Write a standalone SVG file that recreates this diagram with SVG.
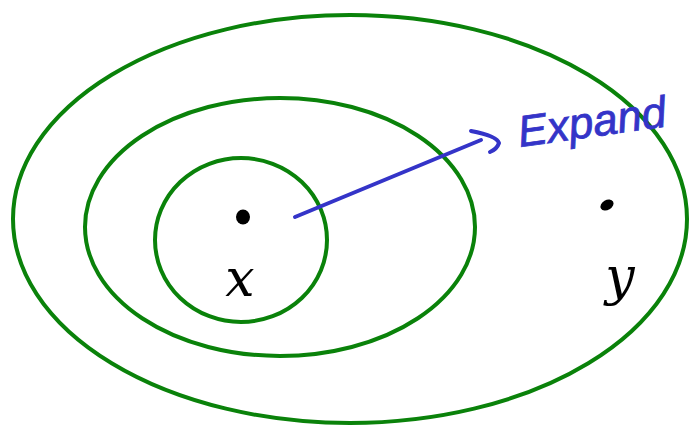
<svg xmlns="http://www.w3.org/2000/svg" width="689" height="430" viewBox="0 0 689 430">
<style>
.ring{fill:none;stroke:#0a820a;stroke-width:4}
.hand{font-family:"DejaVu Serif","Liberation Serif",serif;font-style:italic}
.blue{stroke:#3434c8;stroke-width:4;fill:none;stroke-linecap:round;stroke-linejoin:round}
</style>
<rect width="689" height="430" fill="#fff"/>
<g id="outer"><ellipse class="ring" cx="350" cy="219" rx="337" ry="204"/></g>
<g id="middle"><ellipse class="ring" cx="280" cy="227" rx="195" ry="129"/></g>
<g id="inner"><ellipse class="ring" cx="241" cy="240" rx="86" ry="82"/></g>
<g id="point-x">
<ellipse cx="243" cy="217" rx="7" ry="7.5" fill="#000"/>
<text class="hand" x="240" y="296" font-size="52" text-anchor="middle" fill="#000">x</text>
</g>
<g id="point-y">
<ellipse cx="607" cy="205" rx="7" ry="5" transform="rotate(-30 607 205)" fill="#000"/>
<text class="hand" x="620" y="294" font-size="52" text-anchor="middle" fill="#000">y</text>
</g>
<g id="connectors">
<path class="blue" d="M295 217 L481 140"/>
<path class="blue" d="M471 131 Q497 136 499 143 Q497 149 490 152"/>
</g>
<g id="expand-label">
<text x="520" y="147" font-family="Liberation Sans, sans-serif" font-style="italic" font-size="44" fill="#3434c8" stroke="#3434c8" stroke-width="0.8" transform="rotate(-8 520 147)">Expand</text>
</g>
</svg>
